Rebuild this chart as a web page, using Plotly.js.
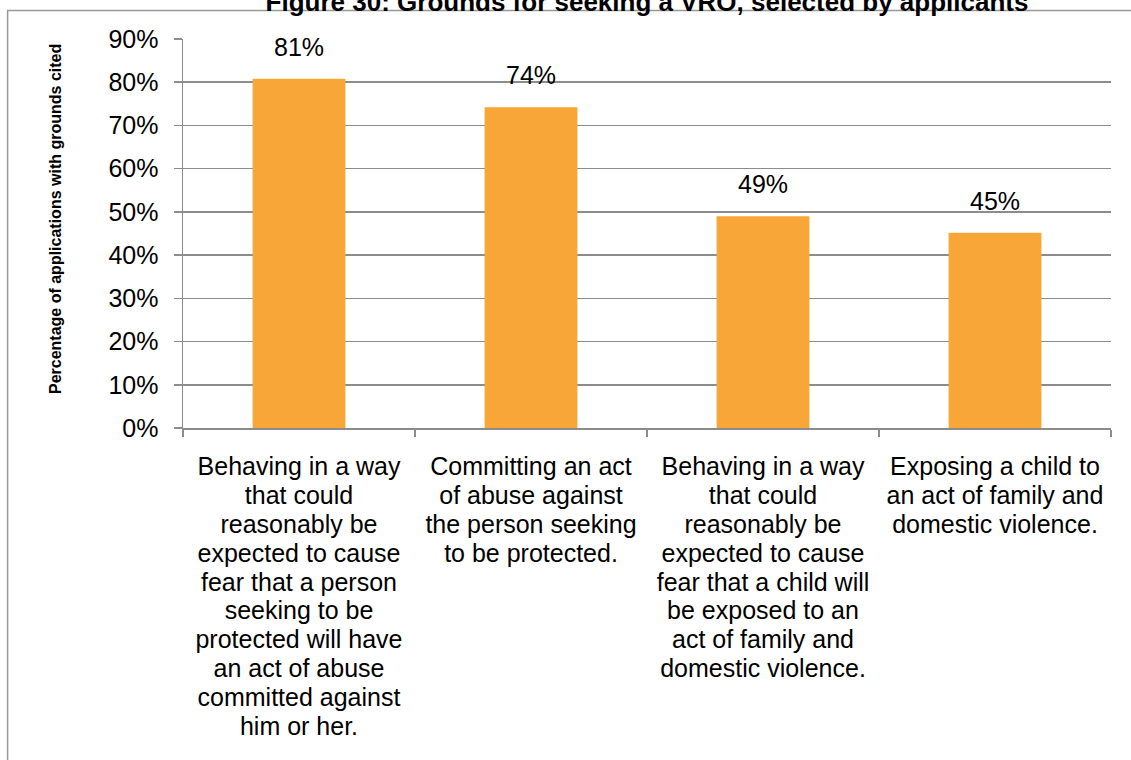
<!DOCTYPE html>
<html>
<head>
<meta charset="utf-8">
<script src="https://cdn.plot.ly/plotly-3.0.1.min.js"></script>
<style>
  html, body { margin: 0; padding: 0; background: #ffffff; }
  #chart { width: 1131px; height: 760px; }
</style>
</head>
<body>
<div id="chart"></div>
<script>
// ---- Data ----
const categories = [
  "Behaving in a way that could reasonably be expected to cause fear that a person seeking to be protected will have an act of abuse committed against him or her.",
  "Committing an act of abuse against the person seeking to be protected.",
  "Behaving in a way that could reasonably be expected to cause fear that a child will be exposed to an act of family and domestic violence.",
  "Exposing a child to an act of family and domestic violence."
];
const tickLines = [
  ["Behaving in a way", "that could", "reasonably be", "expected to cause", "fear that a person", "seeking to be", "protected will have", "an act of abuse", "committed against", "him or her."],
  ["Committing an act", "of abuse against", "the person seeking", "to be protected."],
  ["Behaving in a way", "that could", "reasonably be", "expected to cause", "fear that a child will", "be exposed to an", "act of family and", "domestic violence."],
  ["Exposing a child to", "an act of family and", "domestic violence."]
];
const shares = [0.808, 0.742, 0.49, 0.452];
const yTickVals = [0, 0.1, 0.2, 0.3, 0.4, 0.5, 0.6, 0.7, 0.8, 0.9];
const titleText = "Figure 30: Grounds for seeking a VRO, selected by applicants";
const yTitleText = "Percentage of applications with grounds cited";

// ---- Styling ----
const FONT = "Liberation Sans, Arial, Helvetica, sans-serif";
const GRID = "#8c8c8c";
const BAR = "#F8A637";

const tickText = tickLines.map(lines =>
  lines.map(l => '<span style="font-size:25px">' + l + '</span>').join('<br>')
);

const trace = {
  type: 'bar',
  x: categories,
  y: shares,
  marker: { color: BAR },
  hoverinfo: 'x+y',
  showlegend: false
};

const annotations = categories.map((c, i) => ({
  x: c, y: shares[i], xref: 'x', yref: 'y',
  text: Math.round(shares[i] * 100) + '%',
  showarrow: false, yanchor: 'bottom', yshift: 16,
  font: { family: FONT, size: 25, color: '#000000' }
}));

// y-axis title placed as a rotated annotation (slightly above plot centre, as in the reference)
annotations.push({
  xref: 'paper', yref: 'paper', x: -0.138, y: 0.537,
  xanchor: 'center', yanchor: 'middle', textangle: -90,
  text: '<b>' + yTitleText + '</b>', showarrow: false,
  font: { family: FONT, size: 16, color: '#000000' }
});

const layout = {
  width: 1131, height: 760,
  paper_bgcolor: '#ffffff', plot_bgcolor: '#ffffff',
  margin: { l: 183, r: 20, t: 39, b: 332, pad: 0 },
  font: { family: FONT, color: '#000000' },
  bargap: 0.6,
  title: {
    text: '<b>' + titleText + '</b>',
    font: { family: FONT, size: 26, color: '#000000' },
    xref: 'paper', x: 0.5, xanchor: 'center',
    yref: 'container', y: 1 - 11 / 760, yanchor: 'bottom'
  },
  xaxis: {
    type: 'category',
    tickmode: 'array', tickvals: categories, ticktext: tickText,
    tickson: 'boundaries',
    ticks: 'outside', ticklen: 7, tickwidth: 1.5, tickcolor: GRID,
    showline: true, linecolor: GRID, linewidth: 1.5,
    showgrid: false, zeroline: false,
    tickangle: 0,
    tickfont: { family: FONT, size: 22.2, color: '#000000' },
    ticklabelstandoff: 19,
    automargin: false
  },
  yaxis: {
    range: [0, 0.9],
    tickmode: 'array', tickvals: yTickVals,
    tickformat: '.0%',
    ticks: 'outside', ticklen: 8, tickwidth: 1.5, tickcolor: GRID,
    showline: true, linecolor: GRID, linewidth: 1.5,
    showgrid: true, gridcolor: GRID, gridwidth: 1.5,
    zeroline: false,
    tickfont: { family: FONT, size: 25, color: '#000000' },
    ticklabelstandoff: 10,
    automargin: false
  },
  annotations: annotations,
  shapes: [{
    type: 'path', xref: 'paper', yref: 'paper',
    path: 'M -0.189 -0.9 L -0.189 1.0735 L 1.03 1.0735',
    line: { color: '#999999', width: 1.5 }
  }]
};

Plotly.newPlot('chart', [trace], layout, { displayModeBar: false, staticPlot: true });
</script>
</body>
</html>
